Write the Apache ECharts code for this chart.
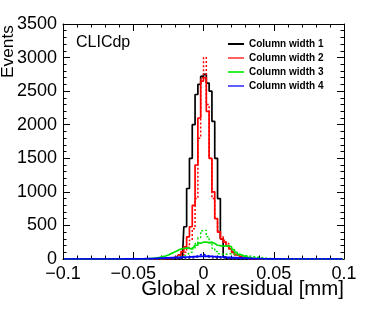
<!DOCTYPE html>
<html>
<head>
<meta charset="utf-8">
<script src="https://cdn.jsdelivr.net/npm/echarts@6/dist/echarts.min.js"></script>
<style>
html,body{margin:0;padding:0;background:#fff;}
#chart{width:374px;height:316px;}
</style>
</head>
<body>
<div id="chart"></div>
<script>
// Bin centers (mm), bin width 0.002 mm, range -0.1 .. 0.1
const binCenters = [
 -0.099,-0.097,-0.095,-0.093,-0.091,-0.089,-0.087,-0.085,-0.083,-0.081,
 -0.079,-0.077,-0.075,-0.073,-0.071,-0.069,-0.067,-0.065,-0.063,-0.061,
 -0.059,-0.057,-0.055,-0.053,-0.051,-0.049,-0.047,-0.045,-0.043,-0.041,
 -0.039,-0.037,-0.035,-0.033,-0.031,-0.029,-0.027,-0.025,-0.023,-0.021,
 -0.019,-0.017,-0.015,-0.013,-0.011,-0.009,-0.007,-0.005,-0.003,-0.001,
  0.001, 0.003, 0.005, 0.007, 0.009, 0.011, 0.013, 0.015, 0.017, 0.019,
  0.021, 0.023, 0.025, 0.027, 0.029, 0.031, 0.033, 0.035, 0.037, 0.039,
  0.041, 0.043, 0.045, 0.047, 0.049, 0.051, 0.053, 0.055, 0.057, 0.059,
  0.061, 0.063, 0.065, 0.067, 0.069, 0.071, 0.073, 0.075, 0.077, 0.079,
  0.081, 0.083, 0.085, 0.087, 0.089, 0.091, 0.093, 0.095, 0.097, 0.099
];

const seriesNames = ['Column width 1','Column width 2','Column width 3','Column width 4'];

const col1Solid = [
 0,0,0,0,0,0,0,0,0,0, 0,0,0,0,0,0,0,0,0,0, 0,0,0,0,0,0,0,0,0,0, 0,0,0,0,0,0,0,0,0,0,
 0,0,10,480,1050,1500,2000,2450,2600,2720,
 2750,2620,2500,2050,1500,900,300,30,0,0,
 0,0,0,0,0,0,0,0,0,0, 0,0,0,0,0,0,0,0,0,0, 0,0,0,0,0,0,0,0,0,0, 0,0,0,0,0,0,0,0,0,0
];
const col1Dotted = [
 0,0,0,0,0,0,0,0,0,0, 0,0,0,0,0,0,0,0,0,0, 0,0,0,0,0,0,0,0,0,0, 0,0,0,0,0,0,0,0,0,0,
 0,0,0,0,3,8,15,25,30,45,
 40,30,25,15,8,3,0,0,0,0,
 0,0,0,0,0,0,0,0,0,0, 0,0,0,0,0,0,0,0,0,0, 0,0,0,0,0,0,0,0,0,0, 0,0,0,0,0,0,0,0,0,0
];
const col2Solid = [
 0,0,0,0,0,0,0,0,0,0, 0,0,0,0,0,0,0,0,0,0, 0,0,0,0,0,0,0,0,0,0,
 0,0,0,0,0,0,0,5,10,20,
 30,60,110,180,330,480,800,1400,2100,2650,
 2700,2200,1500,1000,600,400,300,250,200,150,
 100,60,40,25,15,10,5,0,0,0,
 0,0,0,0,0,0,0,0,0,0, 0,0,0,0,0,0,0,0,0,0, 0,0,0,0,0,0,0,0,0,0
];
const col2Dotted = [
 0,0,0,0,0,0,0,0,0,0, 0,0,0,0,0,0,0,0,0,0, 0,0,0,0,0,0,0,0,0,0,
 0,0,0,0,0,0,0,0,5,10,
 15,30,60,100,170,280,450,900,1800,2700,
 3000,2300,1500,900,600,420,330,280,230,170,
 110,70,45,25,12,5,0,0,0,0,
 0,0,0,0,0,0,0,0,0,0, 0,0,0,0,0,0,0,0,0,0, 0,0,0,0,0,0,0,0,0,0
];
const col3Solid = [
 0,0,0,0,0,0,0,0,0,0, 0,0,0,0,0,0,0,0,0,0, 0,0,0,0,0,0,0,0,0,0,
 5,8,12,18,25,35,45,60,80,100,
 120,140,155,160,165,150,175,205,235,250,
 250,245,250,230,205,200,190,195,195,180,
 140,100,70,50,35,25,18,13,9,6,
 4,3,0,0,0,0,0,0,0,0,
 0,0,0,0,0,0,0,0,0,0, 0,0,0,0,0,0,0,0,0,0
];
const col3Dotted = [
 0,0,0,0,0,0,0,0,0,0, 0,0,0,0,0,0,0,0,0,0, 0,0,0,0,0,0,0,0,0,0,
 0,0,0,0,0,5,8,10,15,20,
 25,30,40,50,70,100,150,230,320,420,
 430,330,240,160,110,80,70,70,80,80,
 70,65,60,55,50,45,40,35,30,25,
 20,15,10,6,3,0,0,0,0,0,
 0,0,0,0,0,0,0,0,0,0, 0,0,0,0,0,0,0,0,0,0
];
const col4Solid = [
 0,0,0,0,0,0,0,0,0,0, 0,0,0,0,0,0,0,0,0,0,
 0,0,1,1,2,2,3,3,4,5,
 6,7,8,10,12,14,16,18,20,22,
 24,25,27,28,30,32,34,36,38,40,
 42,40,38,36,34,32,30,28,26,24,
 22,20,18,16,14,12,10,8,7,6,
 5,4,3,3,2,2,1,1,0,0,
 0,0,0,0,0,0,0,0,0,0, 0,0,0,0,0,0,0,0,0,0
];
const col4Dotted = [
 0,0,0,0,0,0,0,0,0,0, 0,0,0,0,0,0,0,0,0,0, 0,0,0,0,0,0,0,0,0,0,
 0,0,0,0,2,3,4,6,8,10,
 12,14,16,18,22,26,30,40,50,75,
 65,50,45,38,30,25,20,16,13,10,
 8,6,5,4,3,2,1,0,0,0,
 0,0,0,0,0,0,0,0,0,0, 0,0,0,0,0,0,0,0,0,0, 0,0,0,0,0,0,0,0,0,0
];

const xTicks = {min:-0.1, max:0.1, interval:0.05};
const yTicks = {min:0, max:3500, interval:500};

const plotColors = ['#000000','#ff0000','#00e000','#0000ff'];
const legendColors = ['#000000','#ff6060','#30f030','#6060ff'];
const FONT = 'Liberation Sans, Arial, Helvetica, sans-serif';

function pairs(vals){ return binCenters.map((c,i)=>[c, vals[i]]); }

function hist(name, vals, color, dotted){
  return {
    name: name, type:'line', step:'middle', data: pairs(vals),
    showSymbol:false, symbol:'none', silent:true,
    lineStyle:{color:color, width: dotted?1.5:1.7, type: dotted?[2,2]:'solid'},
    itemStyle:{color:color}
  };
}

const series = [
  hist(seriesNames[0], col1Solid, plotColors[0], false),
  hist(seriesNames[0]+' ', col1Dotted, '#555555', true),
  hist(seriesNames[1], col2Solid, plotColors[1], false),
  hist(seriesNames[1]+' ', col2Dotted, plotColors[1], true),
  hist(seriesNames[2], col3Solid, plotColors[2], false),
  hist(seriesNames[2]+' ', col3Dotted, plotColors[2], true),
  hist(seriesNames[3], col4Solid, plotColors[3], false),
  hist(seriesNames[3]+' ', col4Dotted, plotColors[3], true)
];

function fmtX(v){
  const r = Math.round(v*1000)/1000;
  if (r === 0) return '0';
  return (r<0 ? '\u2212' : '') + String(Math.abs(r));
}
function fmtY(v){ return String(Math.round(v)); }

const axisLine = {show:true, onZero:false, lineStyle:{color:'#000', width:1}};
const chart = echarts.init(document.getElementById('chart'), null, {renderer:'canvas'});
chart.setOption({
  animation:false,
  backgroundColor:'#fff',
  grid:{left:63, right:30, top:24, bottom:57, containLabel:false, outerBoundsMode:'none'},
  legend:{
    orient:'vertical', left:223, top:33, itemGap:2,
    icon:'rect', itemWidth:16, itemHeight:2,
    selectedMode:false,
    textStyle:{fontFamily:FONT, fontWeight:'bold', fontSize:10, color:'#000', lineHeight:12},
    data: seriesNames.map((n,i)=>({name:n, itemStyle:{color:legendColors[i]}}))
  },
  xAxis:[
    {type:'value', position:'bottom', min:xTicks.min, max:xTicks.max, interval:xTicks.interval,
     axisLine:axisLine, splitLine:{show:false},
     axisTick:{show:true, inside:true, length:7, lineStyle:{color:'#000'}},
     minorTick:{show:true, splitNumber:5, length:3.5, lineStyle:{color:'#000'}},
     axisLabel:{show:true, margin:6, formatter:fmtX, fontFamily:FONT, fontSize:18, color:'#000',
       showMinLabel:true, showMaxLabel:true, hideOverlap:false}},
    {type:'value', position:'top', min:xTicks.min, max:xTicks.max, interval:xTicks.interval,
     axisLine:axisLine, splitLine:{show:false},
     axisTick:{show:true, inside:true, length:7, lineStyle:{color:'#000'}},
     minorTick:{show:true, splitNumber:5, length:3.5, lineStyle:{color:'#000'}},
     axisLabel:{show:false}}
  ],
  yAxis:[
    {type:'value', position:'left', min:yTicks.min, max:yTicks.max, interval:yTicks.interval,
     axisLine:axisLine, splitLine:{show:false},
     axisTick:{show:true, inside:true, length:7, lineStyle:{color:'#000'}},
     minorTick:{show:true, splitNumber:5, length:3.5, lineStyle:{color:'#000'}},
     axisLabel:{show:true, margin:6, formatter:fmtY, fontFamily:FONT, fontSize:18, color:'#000',
       showMinLabel:true, showMaxLabel:true},
     name:'Events', nameLocation:'middle', nameGap:55, nameMoveOverlap:false,
     nameTextStyle:{fontFamily:FONT, fontSize:17.3, color:'#000', align:'left', verticalAlign:'middle', padding:[0,0,0,63.5]}},
    {type:'value', position:'right', min:yTicks.min, max:yTicks.max, interval:yTicks.interval,
     axisLine:axisLine, splitLine:{show:false},
     axisTick:{show:true, inside:true, length:7, lineStyle:{color:'#000'}},
     minorTick:{show:true, splitNumber:5, length:3.5, lineStyle:{color:'#000'}},
     axisLabel:{show:false}}
  ],
  graphic:[
    {type:'text', left:76, top:35, silent:true,
     style:{text:'CLICdp', fontFamily:FONT, fontSize:16, fill:'#000'}},
    {type:'text', x:344, y:279, silent:true,
     style:{text:'Global x residual [mm]', fontFamily:FONT, fontSize:20.4, fill:'#000', align:'right', verticalAlign:'top'}}
  ],
  series: series
});
</script>
</body>
</html>
